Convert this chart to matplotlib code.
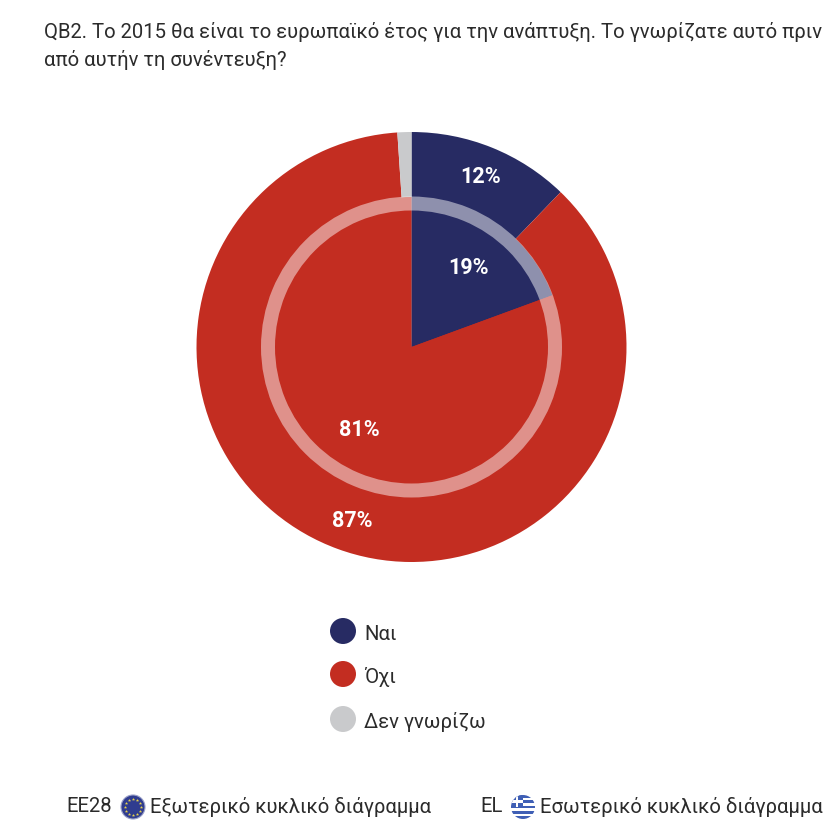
import numpy as np
import matplotlib
matplotlib.use("Agg")
import matplotlib.pyplot as plt
from matplotlib.patches import Circle, Wedge, Rectangle

title_lines = ["QB2. Το 2015 θα είναι το ευρωπαϊκό έτος για την ανάπτυξη. Το γνωρίζατε αυτό πριν",
               "από αυτήν τη συνέντευξη?"]
categories = ["Ναι", "Όχι", "Δεν γνωρίζω"]
outer_values = [12.2, 86.75, 1.05]   # EE28, shares as drawn
inner_values = [19.4, 80.6]          # EL, shares as drawn
outer_labels = ["12%", "87%"]
inner_labels = ["19%", "81%"]
colors = ["#272b63", "#c32d21", "#c9cacc"]
outer_caption = "Εξωτερικό κυκλικό διάγραμμα"
inner_caption = "Εσωτερικό κυκλικό διάγραμμα"

plt.rcParams['font.family'] = ['Roboto', 'Liberation Sans', 'DejaVu Sans']

H = 824
fig = plt.figure(figsize=(8.24, 8.24), dpi=100)
ax = fig.add_axes([0, 0, 1, 1])

def py(y):
    # reference is measured from the top
    return H - y

cx, cy = 411.5, py(347)

ax.pie(outer_values, colors=colors, radius=215, center=(cx, cy), startangle=90,
       counterclock=False, frame=False)
ax.pie(inner_values, colors=colors[:2], radius=150, center=(cx, cy), startangle=90,
       counterclock=False, frame=False)
ax.set_xlim(0, 824)
ax.set_ylim(0, 824)
ax.set_aspect('equal')
ax.set_axis_off()

# pale ring on the edge of the inner pie
ax.add_patch(Wedge((cx, cy), 150.5, 0, 360, width=14, facecolor='white', alpha=0.48, linewidth=0))

label_style = dict(color='white', fontsize=15.5, fontweight='bold', ha='center', va='center')
ax.text(481, py(177), outer_labels[0], **label_style)
ax.text(352, py(521), outer_labels[1], **label_style)
ax.text(469, py(268), inner_labels[0], **label_style)
ax.text(359, py(430), inner_labels[1], **label_style)

# title
ax.text(44, py(32), title_lines[0], fontsize=14.6, color='#2b2b2b', va='center', ha='left')
ax.text(44, py(60), title_lines[1], fontsize=14.6, color='#2b2b2b', va='center', ha='left')

# legend
for name, col, y in zip(categories, colors, [631, 674, 719]):
    ax.add_patch(Circle((343, py(y)), 13, facecolor=col, linewidth=0))
    ax.text(364, py(y + 3), name, fontsize=14.6, color='#2b2b2b', va='center', ha='left')

# footer with the two small flags
ax.text(66, py(807), "EE28", fontsize=14.6, color='#2b2b2b', va='center', ha='left')
eu = Circle((133, py(807)), 12, facecolor='#2f3c8f', edgecolor='#9aa0c8', linewidth=0.8)
ax.add_patch(eu)
for a in np.deg2rad(np.arange(0, 360, 30)):
    ax.plot(133 + 8 * np.cos(a), py(807) + 8 * np.sin(a), marker='*', ms=2.5, color='#e8d34a', mew=0)
ax.text(150, py(807), outer_caption, fontsize=14.6, color='#2b2b2b', va='center', ha='left')

ax.text(480, py(807), "EL", fontsize=14.6, color='#2b2b2b', va='center', ha='left')
gx, gy = 523, py(807)
clip = Circle((gx, gy), 12, transform=ax.transData)
for i in range(9):
    s = ax.add_patch(Rectangle((gx - 12, gy + 12 - (i + 1) * 24 / 9), 24, 24 / 9,
                               facecolor='#3f5fb5' if i % 2 == 0 else 'white', linewidth=0))
    s.set_clip_path(clip)
for r in [Rectangle((gx - 12, gy), 12, 12, facecolor='#3f5fb5', linewidth=0),
          Rectangle((gx - 12, gy + 4.5), 12, 2.6, facecolor='white', linewidth=0),
          Rectangle((gx - 7.3, gy), 2.6, 12, facecolor='white', linewidth=0)]:
    ax.add_patch(r).set_clip_path(clip)
ax.text(540, py(807), inner_caption, fontsize=14.6, color='#2b2b2b', va='center', ha='left')

fig.savefig("out.png", dpi=100, facecolor='white')
